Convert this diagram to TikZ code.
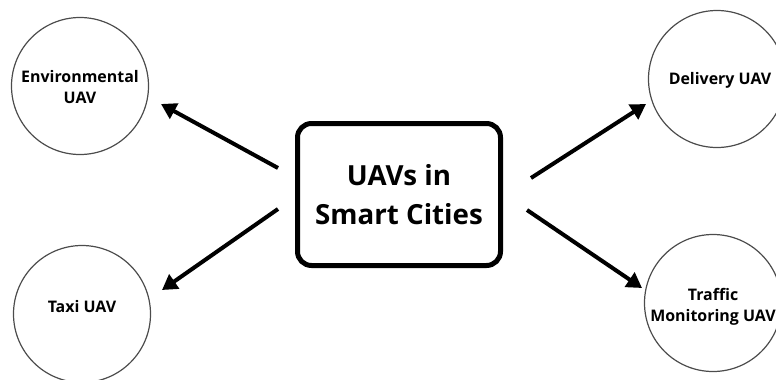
\documentclass[tikz,border=0pt]{standalone}
\usepackage{fontspec}
\setmainfont{Open Sans}
\usetikzlibrary{arrows.meta}
\begin{document}
\begin{tikzpicture}[x=1bp,y=-1bp,
  uav/.style={circle,draw=black!70,line width=1.2bp,minimum size=137bp,inner sep=0pt},
  uavtext/.style={align=center,inner sep=0pt,font=\bfseries\fontsize{16}{21.5}\selectfont},
  hub/.style={draw=black,line width=5bp,rounded corners=14bp,minimum width=203bp,
    minimum height=142bp,align=center,font=\bfseries\fontsize{27.8}{39}\selectfont},
  link/.style={line width=4bp,-{Triangle[length=15bp,width=17bp]}}]
  \useasboundingbox (0,0) rectangle (776,379);
  \clip (0,0) rectangle (776,379);

  % central topic
  \node[hub] (hub) at (399,194.5) {UAVs in\\Smart Cities};

  % application circles
  \node[uav] (env) at (80,86) {};
  \node[uav] (taxi) at (82,314) {};
  \node[uav] (deliv) at (717,79) {};
  \node[uav] (traffic) at (713,303) {};

  % circle captions
  \node[uavtext] (envT) at ([yshift=-1bp]env.center) {Environmental\\UAV};
  \node[uavtext] (taxiT) at ([yshift=7bp]taxi.center) {Taxi UAV};
  \node[uavtext] (delivT) at ([xshift=3bp,yshift=-1bp]deliv.center) {Delivery UAV};
  \node[uavtext] (trafficT) at ([yshift=-4bp]traffic.center) {Traffic\\Monitoring UAV};

  % arrow end points
  \coordinate (envS) at (278,168);   \coordinate (envE) at (161,104);
  \coordinate (taxiS) at (278,209);  \coordinate (taxiE) at (162,290);
  \coordinate (delS) at (531,178);   \coordinate (delE) at (646,104);
  \coordinate (trafS) at (527,210);  \coordinate (trafE) at (642,288);

  \draw[link] (envS) -- (envE);
  \draw[link] (taxiS) -- (taxiE);
  \draw[link] (delS) -- (delE);
  \draw[link] (trafS) -- (trafE);
\end{tikzpicture}
\end{document}
